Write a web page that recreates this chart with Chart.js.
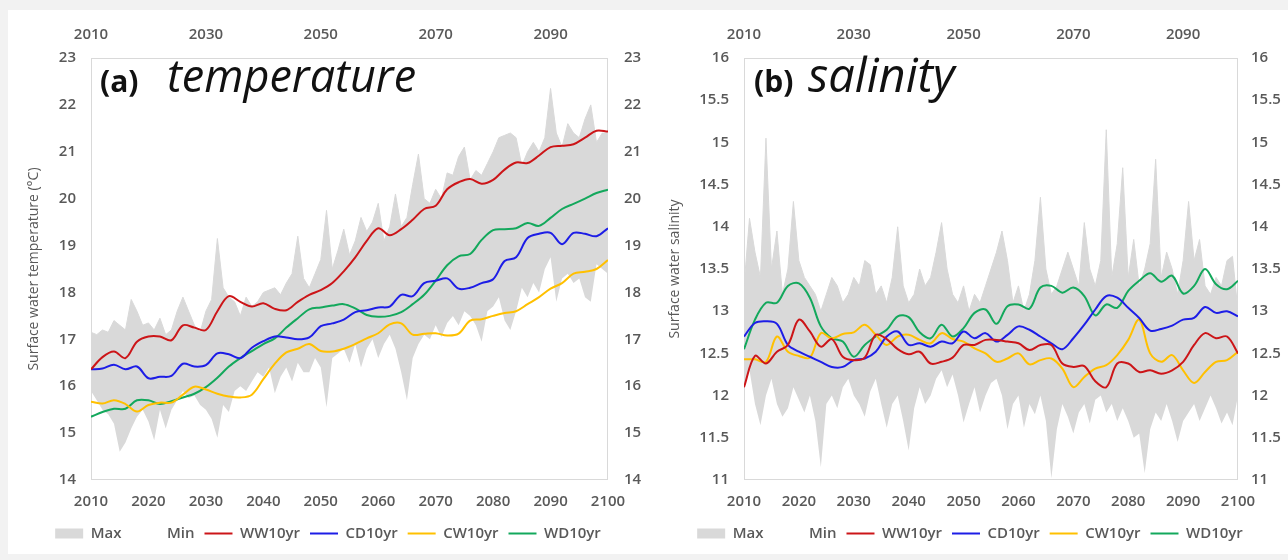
<!DOCTYPE html>
<html>
<head>
<meta charset="utf-8">
<title>Surface water temperature and salinity</title>
<script src="https://cdn.jsdelivr.net/npm/chart.js@4.4.1/dist/chart.umd.min.js"></script>
<style>
  html, body { margin: 0; padding: 0; background: #f2f2f2; }
  #sheet { position: absolute; left: 8px; top: 10px; width: 1280px; height: 544px; background: #fff; }
  canvas { position: absolute; }
  #tempChart { left: 8px; top: 10px; }
  #salChart { left: 652px; top: 10px; }
</style>
</head>
<body>
<div id="sheet"></div>
<canvas id="tempChart" width="640" height="545"></canvas>
<canvas id="salChart" width="636" height="545"></canvas>
<script>
// Años: serie anual (envolvente) y cada dos años (medias móviles de 10 años)
const firstYear = 2010;
const annualYears = Array.from({ length: 91 }, (_, i) => firstYear + i);
const smoothYears = Array.from({ length: 46 }, (_, i) => firstYear + 2 * i);

// Etiquetas de los ejes
const bottomYearTicks = [2010, 2020, 2030, 2040, 2050, 2060, 2070, 2080, 2090, 2100];
const topYearTicks = [2010, 2030, 2050, 2070, 2090];
const tempTicks = [14, 15, 16, 17, 18, 19, 20, 21, 22, 23];
const salTicks = [11, 11.5, 12, 12.5, 13, 13.5, 14, 14.5, 15, 15.5, 16];
const seriesNames = ['Max', 'Min', 'WW10yr', 'CD10yr', 'CW10yr', 'WD10yr'];

// (a) temperatura - envolvente anual
const tempMax = [
  17.15, 17.1, 17.2, 17.15, 17.4, 17.3, 17.2, 17.85, 17.6, 17.3,
  17.35, 17.2, 17.45, 17.1, 17.2, 17.6, 17.9, 17.6, 17.3, 17.15,
  17.6, 17.85, 19.15, 18.1, 17.9, 17.8, 17.5, 17.9, 17.7, 17.8,
  18.0, 18.05, 18.1, 17.95, 18.2, 18.4, 19.2, 18.3, 18.1, 18.4,
  18.7, 19.75, 18.5, 18.9, 19.35, 18.8, 19.1, 19.6, 19.3, 19.5,
  19.9, 19.1, 19.4, 20.1, 19.4, 19.6, 20.3, 20.95, 20.0, 19.9,
  20.2, 20.0, 20.55, 20.5, 20.9, 21.1, 20.4, 20.6, 20.5, 20.75,
  21.0, 21.3, 21.35, 21.4, 21.3, 20.7, 21.0, 21.2, 21.0, 21.3,
  22.35, 21.4, 21.1, 21.6, 21.4, 21.3, 21.7, 22.0, 21.2, 21.4,
  21.4
];
const tempMin = [
  15.9, 15.7, 15.5, 15.4, 15.2, 14.6, 14.8, 15.1, 15.35, 15.5,
  15.25, 14.85, 15.5, 15.1, 15.5, 15.7, 15.9, 15.75, 15.8, 15.6,
  15.5, 15.3, 14.9, 15.6, 15.45, 15.9, 16.0, 15.9, 16.1, 16.3,
  16.2, 16.4, 15.85, 16.2, 16.4, 16.1, 16.5, 16.3, 16.3, 16.6,
  16.4, 15.55, 16.6, 16.7, 16.8, 16.5, 16.9, 16.4, 16.8, 17.0,
  16.6, 16.9, 17.1, 16.8, 16.3, 15.7, 16.6, 16.9, 17.1, 17.0,
  17.3, 17.05, 17.35, 17.5, 17.3, 17.6, 17.5, 17.3, 16.95, 17.6,
  17.7, 17.9, 17.4, 17.2, 17.6, 18.1, 17.9, 18.2, 18.0, 18.5,
  18.75, 17.8, 18.3, 18.4, 18.2, 18.3, 17.9, 17.8, 18.6, 18.5,
  18.4
];
// (a) temperatura - medias de 10 años
const tempWW = [
  16.36, 16.62, 16.74, 16.6, 16.95, 17.06, 17.06, 16.98, 17.3, 17.25,
  17.2, 17.6, 17.92, 17.8, 17.7, 17.77, 17.65, 17.62, 17.8, 17.95,
  18.05, 18.2, 18.45, 18.75, 19.1, 19.37, 19.22, 19.35, 19.55, 19.78,
  19.85, 20.2, 20.35, 20.42, 20.32, 20.4, 20.62, 20.77, 20.76, 20.92,
  21.1, 21.13, 21.16, 21.3, 21.45, 21.43
];
const tempCD = [
  16.36, 16.38, 16.46, 16.36, 16.42, 16.17, 16.2, 16.22, 16.48, 16.42,
  16.45, 16.7, 16.68, 16.6, 16.82, 16.96, 17.06, 17.04, 17.0, 17.04,
  17.28, 17.34, 17.42, 17.58, 17.62, 17.68, 17.7, 17.95, 17.92, 18.2,
  18.25, 18.3, 18.08, 18.1, 18.2, 18.28, 18.67, 18.75, 19.16, 19.25,
  19.27, 19.03, 19.27, 19.25, 19.2, 19.37
];
const tempCW = [
  15.67, 15.63, 15.7, 15.62, 15.46, 15.6, 15.65, 15.65, 15.82, 15.99,
  15.93, 15.84, 15.78, 15.76, 15.82, 16.15, 16.48, 16.72, 16.8, 16.9,
  16.75, 16.74, 16.8, 16.9, 17.02, 17.13, 17.32, 17.34, 17.1, 17.12,
  17.13, 17.08, 17.12, 17.4, 17.43, 17.5, 17.56, 17.6, 17.75, 17.9,
  18.08, 18.2, 18.4, 18.44, 18.5, 18.69
];
const tempWD = [
  15.35, 15.45, 15.52, 15.52, 15.7, 15.7, 15.62, 15.68, 15.76, 15.84,
  15.98, 16.18, 16.42, 16.6, 16.75, 16.9, 17.02, 17.25, 17.45, 17.64,
  17.68, 17.72, 17.75, 17.66, 17.52, 17.48, 17.5, 17.58, 17.75, 17.95,
  18.25, 18.58, 18.77, 18.82, 19.12, 19.33, 19.35, 19.37, 19.48, 19.42,
  19.59, 19.78, 19.89, 20.0, 20.12, 20.19
];

// (b) salinidad - envolvente anual
const salMax = [
  13.3, 14.1, 13.7, 13.4, 15.05, 13.5, 13.95, 13.2, 13.5, 14.3,
  13.6, 13.4, 13.3, 13.2, 13.0, 13.2, 13.4, 13.3, 13.1, 13.2,
  13.4, 13.3, 13.6, 13.55, 13.2, 13.3, 13.1, 13.4, 14.0, 13.3,
  13.1, 13.2, 13.5, 13.3, 13.4, 13.7, 14.05, 13.5, 13.2, 13.1,
  13.3, 13.0, 13.2, 13.1, 13.3, 13.5, 13.7, 13.95, 13.6, 13.1,
  13.3, 13.0, 13.2, 13.6, 14.35, 13.5, 13.2, 13.3, 13.5, 13.7,
  13.5, 13.3, 14.05, 13.5, 13.3, 13.6, 15.15, 13.4, 13.8, 14.7,
  13.4, 13.85, 13.3, 13.5, 13.8, 14.8, 13.4, 13.7, 13.5, 13.2,
  13.6, 14.3, 13.6, 13.85, 13.3, 13.2, 13.4, 13.3, 13.6, 13.65,
  13.0
];
const salMin = [
  12.1, 12.3, 11.9, 11.65, 12.0, 12.2, 11.9, 11.75, 11.85, 12.1,
  11.95, 11.8, 12.0, 11.7, 11.15, 11.9, 12.0, 11.85, 12.1, 12.2,
  12.0, 11.9, 11.75, 12.05, 12.2, 11.9, 11.62, 11.9, 12.0, 11.7,
  11.35, 11.85, 12.1, 11.9, 12.0, 12.2, 12.3, 12.1, 12.25, 12.0,
  11.68, 11.9, 12.1, 11.8, 12.0, 12.15, 12.2, 12.0, 11.6, 11.9,
  12.0, 11.62, 11.9, 11.78, 12.0, 11.7, 11.02, 11.6, 11.9, 11.75,
  11.55, 11.8, 11.9, 11.67, 11.95, 12.0, 11.8, 11.9, 11.7, 11.85,
  11.7, 11.5, 11.55, 11.08, 11.6, 11.8, 11.7, 11.9, 11.7, 11.45,
  11.7, 11.8, 11.9, 11.7, 11.85, 12.0, 11.85, 11.67, 11.8, 11.65,
  12.0
];
// (b) salinidad - medias de 10 años
const salWW = [
  12.1, 12.47, 12.38, 12.52, 12.6, 12.9, 12.76, 12.58, 12.67, 12.46,
  12.42, 12.45, 12.72, 12.67, 12.55, 12.49, 12.52, 12.38, 12.4, 12.45,
  12.6, 12.6, 12.66, 12.66, 12.64, 12.62, 12.54, 12.6, 12.6, 12.38,
  12.34, 12.35, 12.17, 12.1, 12.38, 12.38, 12.28, 12.3, 12.26, 12.3,
  12.4, 12.6, 12.74, 12.68, 12.7, 12.5
];
const salCD = [
  12.7, 12.86, 12.88, 12.85, 12.6, 12.52, 12.46, 12.4, 12.34, 12.34,
  12.42, 12.44, 12.52, 12.7, 12.76, 12.6, 12.62, 12.58, 12.64, 12.62,
  12.76, 12.68, 12.74, 12.64, 12.72, 12.82, 12.78, 12.7, 12.62, 12.55,
  12.68, 12.84, 13.02, 13.18, 13.16, 13.04, 12.92, 12.77, 12.79, 12.83,
  12.9, 12.92, 13.05, 12.98, 13.0, 12.94
];
const salCW = [
  12.43, 12.43, 12.4, 12.7, 12.52, 12.47, 12.45, 12.74, 12.68, 12.73,
  12.75, 12.84, 12.72, 12.6, 12.7, 12.72, 12.66, 12.62, 12.74, 12.67,
  12.64, 12.56, 12.5, 12.4, 12.44, 12.5, 12.37, 12.42, 12.44, 12.32,
  12.1, 12.22, 12.32, 12.36, 12.48, 12.66, 12.9, 12.5, 12.4, 12.48,
  12.3, 12.15, 12.28, 12.4, 12.42, 12.52
];
const salWD = [
  12.55, 12.9, 13.1, 13.1, 13.3, 13.33, 13.16, 12.82, 12.68, 12.64,
  12.46, 12.6, 12.7, 12.78, 12.94, 12.93, 12.75, 12.68, 12.84, 12.7,
  12.8, 12.98, 13.02, 12.85, 13.06, 13.08, 13.03, 13.28, 13.3, 13.22,
  13.28, 13.18, 12.95, 13.08, 13.04, 13.24, 13.36, 13.45, 13.35, 13.42,
  13.21, 13.3, 13.5, 13.32, 13.26, 13.36
];

// Estilos
const textGray = '#595959';
const bandGray = '#d9d9d9';
const lineColors = ['#cc1518', '#1d1de6', '#ffc000', '#13a85c'];
const tickFont = { family: '"Open Sans", sans-serif', size: 15, weight: '600' };

const toPoints = (xs, ys) => ys.map((v, i) => ({ x: xs[i], y: v }));
const useTicks = (list) => (scale) => { scale.ticks = list.map(v => ({ value: v })); };

// Marco gris del área de trazado
const framePlugin = {
  id: 'frame',
  beforeDatasetsDraw(chart) {
    const { ctx, chartArea: a } = chart;
    ctx.save();
    ctx.strokeStyle = '#d9d9d9';
    ctx.lineWidth = 1;
    ctx.strokeRect(Math.round(a.left) + 0.5, Math.round(a.top) + 0.5,
      Math.round(a.width) - 1, Math.round(a.height) - 1);
    ctx.restore();
  }
};

// Título del panel dentro del área de trazado: "(a) temperature"
const panelTitlePlugin = {
  id: 'panelTitle',
  afterDatasetsDraw(chart, args, opts) {
    const { ctx, chartArea: a } = chart;
    ctx.save();
    ctx.fillStyle = '#111111';
    ctx.textBaseline = 'alphabetic';
    ctx.font = '700 30px "Open Sans"';
    ctx.fillText(opts.tag, a.left + opts.tagX, a.top + 34);
    ctx.font = `italic 400 ${opts.wordSize}px "Open Sans"`;
    ctx.fillText(opts.word, a.left + opts.wordX, a.top + 34);
    ctx.restore();
  }
};

/**
 * Construye uno de los dos paneles
 */
const buildPanel = (canvasId, p) => {
  const series = [p.ww, p.cd, p.cw, p.wd];
  const datasets = [
    {
      label: seriesNames[0], data: toPoints(annualYears, p.max),
      borderColor: bandGray, backgroundColor: bandGray, borderWidth: 1,
      pointRadius: 0, tension: 0, fill: '+1', order: 5,
      legendStyle: 'rect', legendFill: bandGray
    },
    {
      label: seriesNames[1], data: toPoints(annualYears, p.min),
      borderColor: 'rgba(0,0,0,0)', backgroundColor: 'rgba(0,0,0,0)', borderWidth: 1,
      pointRadius: 0, tension: 0, fill: false, order: 6,
      legendStyle: 'rect', legendFill: '#ffffff'
    }
  ];
  series.forEach((values, i) => {
    datasets.push({
      label: seriesNames[i + 2], data: toPoints(smoothYears, values),
      borderColor: lineColors[i], backgroundColor: lineColors[i], borderWidth: 2,
      pointRadius: 0, tension: 0.35, fill: false, order: 1,
      legendStyle: 'line', legendFill: lineColors[i]
    });
  });

  const yCommon = {
    type: 'linear', min: p.yMin, max: p.yMax,
    grid: { display: false, drawTicks: false }, border: { display: false },
    afterBuildTicks: useTicks(p.yTicks),
    ticks: { font: tickFont, color: textGray, autoSkip: false, callback: v => String(v) }
  };
  const xCommon = {
    type: 'linear', min: 2010, max: 2100,
    grid: { display: false, drawTicks: false }, border: { display: false },
    ticks: { font: tickFont, color: textGray, autoSkip: false, maxRotation: 0, callback: v => String(v) }
  };

  return new Chart(document.getElementById(canvasId), {
    type: 'line',
    data: { datasets },
    plugins: [framePlugin, panelTitlePlugin],
    options: {
      responsive: false,
      animation: false,
      layout: { padding: { left: 0, right: 0, top: 0, bottom: 4 } },
      datasets: { line: { xAxisID: 'x', yAxisID: 'y' } },
      scales: {
        x: {
          ...xCommon, position: 'bottom',
          afterBuildTicks: useTicks(bottomYearTicks),
          ticks: { ...xCommon.ticks, padding: 13 },
          afterFit: s => { s.height = 36; }
        },
        xTop: {
          ...xCommon, position: 'top', display: true,
          afterBuildTicks: useTicks(topYearTicks),
          ticks: { ...xCommon.ticks, padding: 14 },
          afterFit: s => { s.height = 48; }
        },
        y: {
          ...yCommon, position: 'left',
          ticks: { ...yCommon.ticks, padding: 15 },
          title: {
            display: true, text: p.yTitle, color: textGray,
            font: { family: '"Open Sans", sans-serif', size: 14, weight: '400' },
            padding: { top: p.titlePad, bottom: 0 }
          },
          afterFit: s => { s.width = p.leftWidth; }
        },
        yRight: {
          ...yCommon, position: 'right', display: true,
          ticks: { ...yCommon.ticks, padding: p.rightPad },
          afterFit: s => { s.width = p.rightWidth; }
        }
      },
      plugins: {
        tooltip: { enabled: false },
        panelTitle: { tag: p.tag, word: p.word, tagX: p.tagX, wordX: p.wordX, wordSize: p.wordSize },
        legend: {
          position: 'bottom',
          labels: {
            usePointStyle: true, pointStyleWidth: 28, boxHeight: 10, padding: 10,
            font: tickFont, color: textGray,
            generateLabels: chart => chart.data.datasets.map((ds, i) => ({
              text: ds.label, datasetIndex: i, hidden: false,
              fillStyle: ds.legendFill, strokeStyle: ds.legendFill,
              lineWidth: ds.legendStyle === 'line' ? 2 : 0,
              pointStyle: ds.legendStyle, fontColor: textGray
            }))
          }
        }
      }
    }
  });
};

buildPanel('tempChart', {
  max: tempMax, min: tempMin, ww: tempWW, cd: tempCD, cw: tempCW, wd: tempWD,
  yMin: 14, yMax: 23, yTicks: tempTicks,
  yTitle: 'Surface water temperature (°C)', titlePad: 18,
  leftWidth: 83, rightWidth: 40, rightPad: 16,
  tag: '(a)', word: 'temperature', tagX: 9, wordX: 76, wordSize: 45
});

buildPanel('salChart', {
  max: salMax, min: salMin, ww: salWW, cd: salCD, cw: salCW, wd: salWD,
  yMin: 11, yMax: 16, yTicks: salTicks,
  yTitle: 'Surface water salinity', titlePad: 15,
  leftWidth: 92, rightWidth: 50, rightPad: 13,
  tag: '(b)', word: 'salinity', tagX: 10, wordX: 64, wordSize: 47
});
</script>
</body>
</html>
